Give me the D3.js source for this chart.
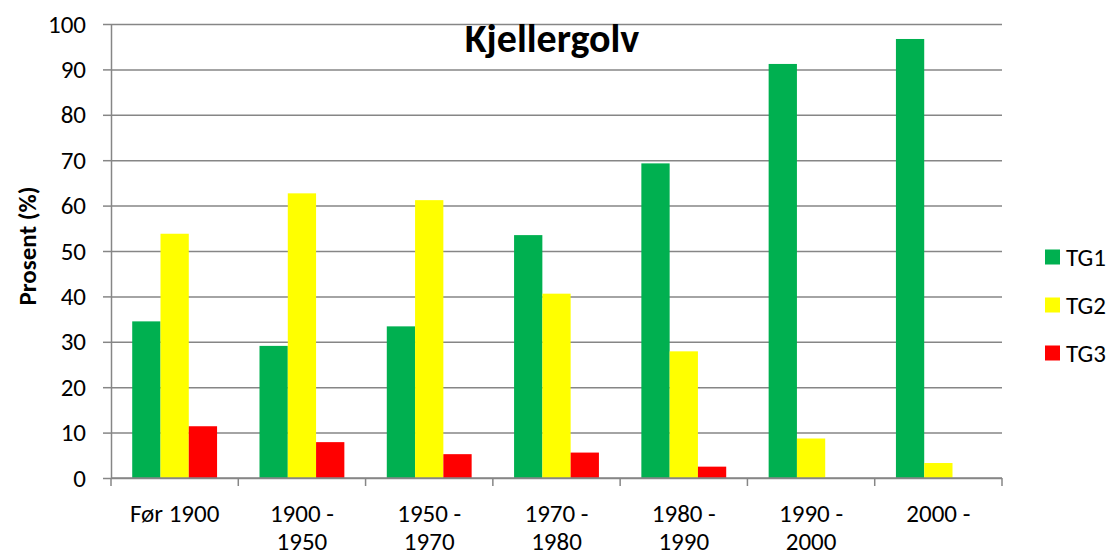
<!DOCTYPE html>
<html>
<head>
<meta charset="utf-8">
<script src="https://cdn.jsdelivr.net/npm/d3@7"></script>
<style>
  body { margin: 0; background: #fff; }
  text { font-family: Carlito, Lato, "Open Sans", sans-serif; fill: #000; }
  .grid line { stroke: #868686; stroke-width: 1.5; }
  .grid path { display: none; }
  .axis path, .axis line { stroke: #868686; stroke-width: 1.5; }
</style>
</head>
<body>
<svg id="chart"></svg>
<script>
// data
var categories = ["Før 1900", "1900 - 1950", "1950 - 1970", "1970 - 1980", "1980 - 1990", "1990 - 2000", "2000 -"];
var labelLines = [["Før 1900"], ["1900 -", "1950"], ["1950 -", "1970"], ["1970 -", "1980"], ["1980 -", "1990"], ["1990 -", "2000"], ["2000 -"]];
var seriesNames = ["TG1", "TG2", "TG3"];
var tg1 = [34.5, 29.1, 33.4, 53.5, 69.3, 91.2, 96.7];
var tg2 = [53.8, 62.7, 61.2, 40.6, 27.9, 8.7, 3.3];
var tg3 = [11.4, 7.9, 5.25, 5.6, 2.5, 0, 0];
var colors = ["#00B050", "#FFFF00", "#FF0000"];
var yTicks = [0, 10, 20, 30, 40, 50, 60, 70, 80, 90, 100];

function drawChart(svgEl) {
  var margin = {top: 24, right: 113, bottom: 78, left: 111},
      width = 1115 - margin.left - margin.right,
      height = 556 - margin.top - margin.bottom;

  var svg = d3.select(svgEl)
      .attr("width", 1115)
      .attr("height", 556);

  var g = svg.append("g")
      .attr("transform", "translate(" + margin.left + "," + margin.top + ")");

  var x0 = d3.scaleBand().domain(categories).range([0, width]).paddingInner(0).paddingOuter(0);
  var x1 = d3.scaleBand().domain(seriesNames).range([0, x0.bandwidth()]).paddingInner(0).paddingOuter(0.75);
  var y = d3.scaleLinear().domain([0, 100]).range([height, 0]);
  var color = d3.scaleOrdinal().domain(seriesNames).range(colors);

  // gridlines
  g.append("g")
      .attr("class", "grid")
      .call(d3.axisLeft(y).tickValues(yTicks).tickSize(-width).tickFormat(""));

  var rows = categories.map(function(c, i) {
    return {cat: c, values: [
      {key: "TG1", value: tg1[i]},
      {key: "TG2", value: tg2[i]},
      {key: "TG3", value: tg3[i]}
    ]};
  });

  // bars
  g.selectAll(".cat")
      .data(rows)
    .enter().append("g")
      .attr("class", "cat")
      .attr("transform", function(d) { return "translate(" + x0(d.cat) + ",0)"; })
    .selectAll("rect")
      .data(function(d) { return d.values; })
    .enter().append("rect")
      .attr("x", function(d) { return x1(d.key); })
      .attr("width", x1.bandwidth())
      .attr("y", function(d) { return y(d.value); })
      .attr("height", function(d) { return height - y(d.value); })
      .attr("fill", function(d) { return color(d.key); });

  // y axis
  var yAxis = g.append("g")
      .attr("class", "axis")
      .call(d3.axisLeft(y).tickValues(yTicks).tickSize(8).tickSizeOuter(0).tickPadding(17));
  yAxis.selectAll("text").style("font-size", "25px");

  // x axis with ticks at category boundaries
  var xAxis = g.append("g")
      .attr("class", "axis")
      .attr("transform", "translate(0," + height + ")");
  xAxis.append("line")
      .attr("x1", 0).attr("x2", width)
      .attr("y1", 0).attr("y2", 0);
  xAxis.selectAll(".tk")
      .data(d3.range(categories.length + 1))
    .enter().append("line")
      .attr("class", "tk")
      .attr("x1", function(i) { return i * x0.step(); })
      .attr("x2", function(i) { return i * x0.step(); })
      .attr("y1", 0).attr("y2", 8);

  var lbl = xAxis.selectAll(".lbl")
      .data(categories)
    .enter().append("text")
      .attr("class", "lbl")
      .attr("text-anchor", "middle")
      .style("font-size", "25px")
      .attr("transform", function(d) { return "translate(" + (x0(d) + x0.bandwidth() / 2) + ",0)"; });
  lbl.selectAll("tspan")
      .data(function(d, i) { return labelLines[i]; })
    .enter().append("tspan")
      .attr("x", 0)
      .attr("y", function(d, j) { return 44 + j * 28; })
      .text(function(d) { return d; });

  // title
  svg.append("text")
      .attr("x", 552)
      .attr("y", 52)
      .attr("text-anchor", "middle")
      .style("font-size", "40px")
      .style("font-weight", "bold")
      .text("Kjellergolv");

  // y axis label
  svg.append("text")
      .attr("transform", "translate(36," + 246 + ") rotate(-90)")
      .attr("text-anchor", "middle")
      .style("font-size", "25px")
      .style("font-weight", "bold")
      .text("Prosent (%)");

  // legend
  var legend = svg.append("g")
      .attr("transform", "translate(1045,257)");
  var item = legend.selectAll(".leg")
      .data(seriesNames)
    .enter().append("g")
      .attr("class", "leg")
      .attr("transform", function(d, i) { return "translate(0," + (i * 48) + ")"; });
  item.append("rect")
      .attr("x", 0).attr("y", -7.5)
      .attr("width", 15).attr("height", 15)
      .attr("fill", function(d) { return color(d); });
  item.append("text")
      .attr("x", 21).attr("y", 9)
      .style("font-size", "25px")
      .text(function(d) { return d; });
}

drawChart(document.querySelector("#chart"));
</script>
</body>
</html>
